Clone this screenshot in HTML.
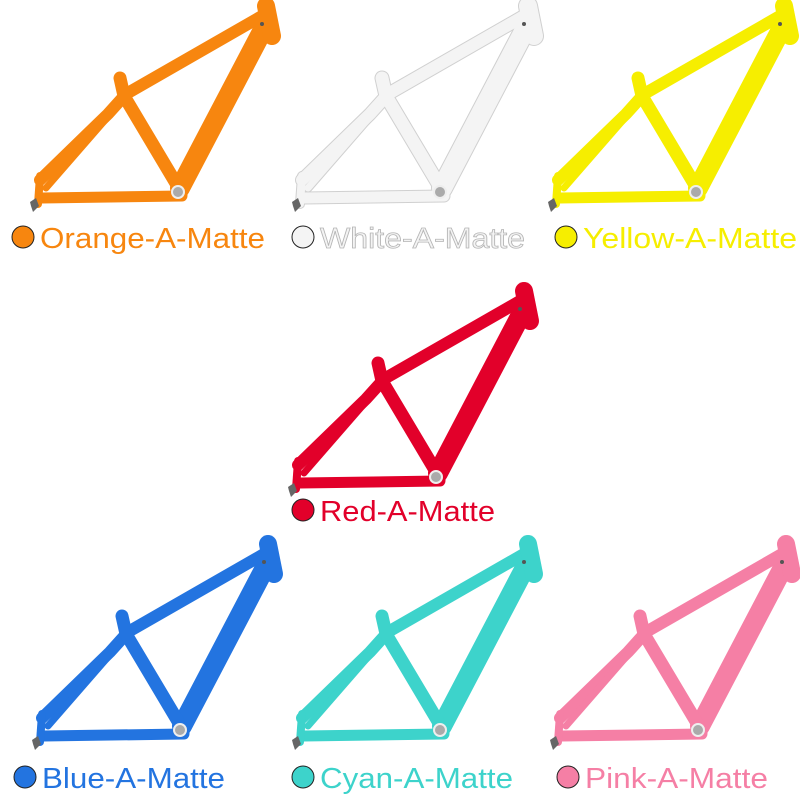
<!DOCTYPE html>
<html><head><meta charset="utf-8"><style>
html,body{margin:0;padding:0;background:#fff;width:800px;height:800px;overflow:hidden}
svg text{font-family:"Liberation Sans",sans-serif;font-size:29px}
</style></head><body>
<svg id="s" width="800" height="800" viewBox="0 0 800 800"></svg>
<script>
const names=["Orange-A-Matte","White-A-Matte","Yellow-A-Matte","Red-A-Matte","Blue-A-Matte","Cyan-A-Matte","Pink-A-Matte"];
const colors=["#f7860f","#f4f4f4","#f6ee00","#e2002a","#2374e0","#3dd3cb","#f57fa5"];
const frameX=[0,262,518,258,2,262,520];
const frameY=[0,0,0,285,538,538,538];
const labelX=[12,292,555,292,14,292,557];
const labelY=[248,248,248,521,788,788,788];
const textW=[225,205,214,175,183,193,183];
const NS="http://www.w3.org/2000/svg";
const svg=document.getElementById('s');
function el(t,a,p){const e=document.createElementNS(NS,t);for(const k in a)e.setAttribute(k,a[k]);(p||svg).appendChild(e);return e;}
names.forEach((n,i)=>{
  const c=colors[i], isW=i===1;
  const g=el('g',{transform:`translate(${frameX[i]},${frameY[i]})`});
  
  
  const edge=isW?'#d0d0d0':c;
  const tubes=[
    ['M266,24 L180,188',20],
    ['M262,16 L126,94 L108,114 L40,180',12],
    ['M126,96 L46,188',7],
    ['M120,78 L124,96 L180,190',13],
    ['M182,196 L42,198',11],
    ['M40,176 L38,204',8],
    ['M266,6 L272,36',18]
  ];
  if(isW) tubes.forEach(t=>el('path',{d:t[0],stroke:edge,'stroke-width':t[1]+2,fill:'none','stroke-linecap':'round','stroke-linejoin':'round'},g));
  tubes.forEach(t=>el('path',{d:t[0],stroke:c,'stroke-width':t[1],fill:'none','stroke-linecap':'round','stroke-linejoin':'round'},g));
  el('circle',{cx:178,cy:192,r:6,fill:'#aaa',stroke:'#eee','stroke-width':2},g);
  el('circle',{cx:262,cy:24,r:2,fill:'#555'},g);
  el('path',{d:'M30,202 l6,-4 l3,8 l-6,6 l-2,-6z',fill:'#666'},g);
  const lab=el('circle',{cx:labelX[i]+11,cy:labelY[i]-11,r:11,fill:c,stroke:'#222','stroke-width':1});
  
  
  const t=el('text',{x:labelX[i]+28,y:labelY[i],fill:c,textLength:textW[i],lengthAdjust:'spacingAndGlyphs'});
  if(isW){t.setAttribute('stroke','#b5b5b5');t.setAttribute('stroke-width','0.8');}
  t.textContent=n;
  
  
});
</script>
</body></html>
